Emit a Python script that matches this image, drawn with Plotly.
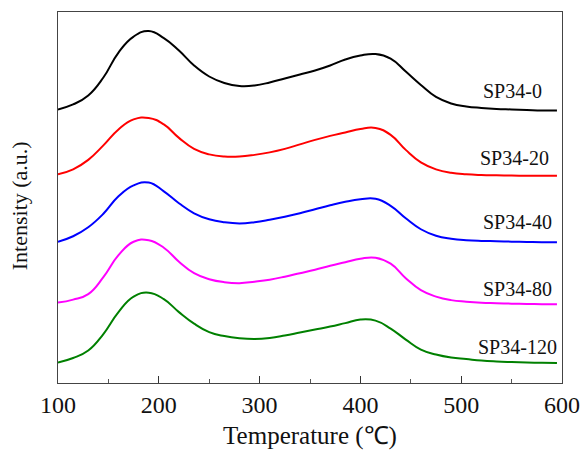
import plotly.graph_objects as go

temperature = [100, 115, 130, 145, 160, 175, 190, 205, 220, 235,
               250, 265, 280, 295, 310, 325, 340, 355, 370, 385,
               400, 415, 430, 445, 460, 475, 490, 505, 520, 535,
               550, 565, 580, 595]

sp34_0 = [274, 279, 288, 306, 331, 347, 352.5, 345.5, 333, 318,
          307, 300.5, 297.5, 298, 301, 305, 309, 313, 318, 324,
          328, 329.5, 325, 312, 298.5, 286.5, 280, 277, 275.5, 274.5,
          274, 273.5, 273, 273]
sp34_20 = [209, 214, 223.5, 238, 254, 264, 265.5, 259, 245.5, 234.5,
           229, 226.8, 226.8, 228.5, 231, 234.5, 239, 243.5, 247.5, 251,
           254.5, 255.5, 248.5, 233.5, 221, 214, 210.5, 209, 208.3, 208,
           207.8, 207.6, 207.5, 207.5]
sp34_40 = [141.5, 147, 156, 169.5, 187, 198, 200.8, 192, 180, 170,
           164, 161, 159.8, 161, 163.5, 166.5, 170, 174, 178, 181.5,
           184, 184.5, 177.5, 165, 154, 147.5, 144.5, 143, 142.3, 142,
           141.6, 141.3, 141, 141]
sp34_80 = [80.5, 83.5, 89, 106, 128, 141.5, 143, 135.5, 121.5, 110,
           104, 101, 100, 101.5, 103.5, 106.5, 110, 113.5, 117.5, 121,
           124.5, 125.5, 119.5, 105, 93, 86.5, 83, 81.5, 80.5, 80,
           79.5, 79.2, 79, 79]
sp34_120 = [20.5, 25, 32.5, 49, 71, 86.5, 90.5, 84, 71, 59.5,
            51, 47, 44.8, 44, 45, 47.5, 50.5, 53.5, 56.5, 60,
            63.5, 62.5, 54.5, 43.5, 33.5, 28.5, 25.5, 24, 22.5, 21.6,
            21, 20.5, 20.2, 20]

series_names = ["SP34-0", "SP34-20", "SP34-40", "SP34-80", "SP34-120"]
series_values = [sp34_0, sp34_20, sp34_40, sp34_80, sp34_120]
series_colors = ["#000000", "#ff0000", "#0000ff", "#ff00ff", "#008000"]

label_x = [582.6, 588.6, 591.9, 591.9, 597.5]
label_y = [292.5, 225, 161.6, 94.3, 36.3]

x_ticks = [100, 200, 300, 400, 500, 600]

serif = "Liberation Serif"

fig = go.Figure()
for name, vals, col in zip(series_names, series_values, series_colors):
    fig.add_trace(go.Scatter(x=temperature, y=vals, mode="lines", name=name,
                             line=dict(color=col, width=2, shape="spline", smoothing=1.3)))

for name, lx, ly in zip(series_names, label_x, label_y):
    fig.add_annotation(x=lx, y=ly, text=name, showarrow=False,
                       xanchor="right", yanchor="middle",
                       font=dict(family=serif, size=20, color="#111"))

# y-axis title placed as a rotated annotation
fig.add_annotation(xref="paper", yref="paper", x=-0.077, y=0.477,
                   text="Intensity (a.u.)", textangle=-90, showarrow=False,
                   xanchor="center", yanchor="middle",
                   font=dict(family=serif, size=22, color="#111"))

fig.update_layout(
    width=584, height=450,
    margin=dict(l=58, r=22, t=12, b=67, autoexpand=False),
    paper_bgcolor="white", plot_bgcolor="white",
    showlegend=False,
    font=dict(family=serif, color="#111"),
    xaxis=dict(range=[100, 600], tickvals=x_ticks, ticktext=[str(t) for t in x_ticks],
               ticks="inside", ticklen=7, tickwidth=1.2, tickcolor="#333",
               minor=dict(dtick=50, ticks="inside", ticklen=4, tickwidth=1, tickcolor="#555"),
               showline=True, linecolor="#444", linewidth=1.2, mirror=True,
               showgrid=False, zeroline=False, automargin=False,
               tickfont=dict(family=serif, size=24, color="#111"),
               title=dict(text="Temperature (\u2103)", font=dict(family=serif, size=25, color="#111"),
                          standoff=9)),
    yaxis=dict(range=[0, 371.6], showticklabels=False, ticks="",
               showline=True, linecolor="#444", linewidth=1.2, mirror=True,
               showgrid=False, zeroline=False, automargin=False),
)

fig.write_html("out.html")
